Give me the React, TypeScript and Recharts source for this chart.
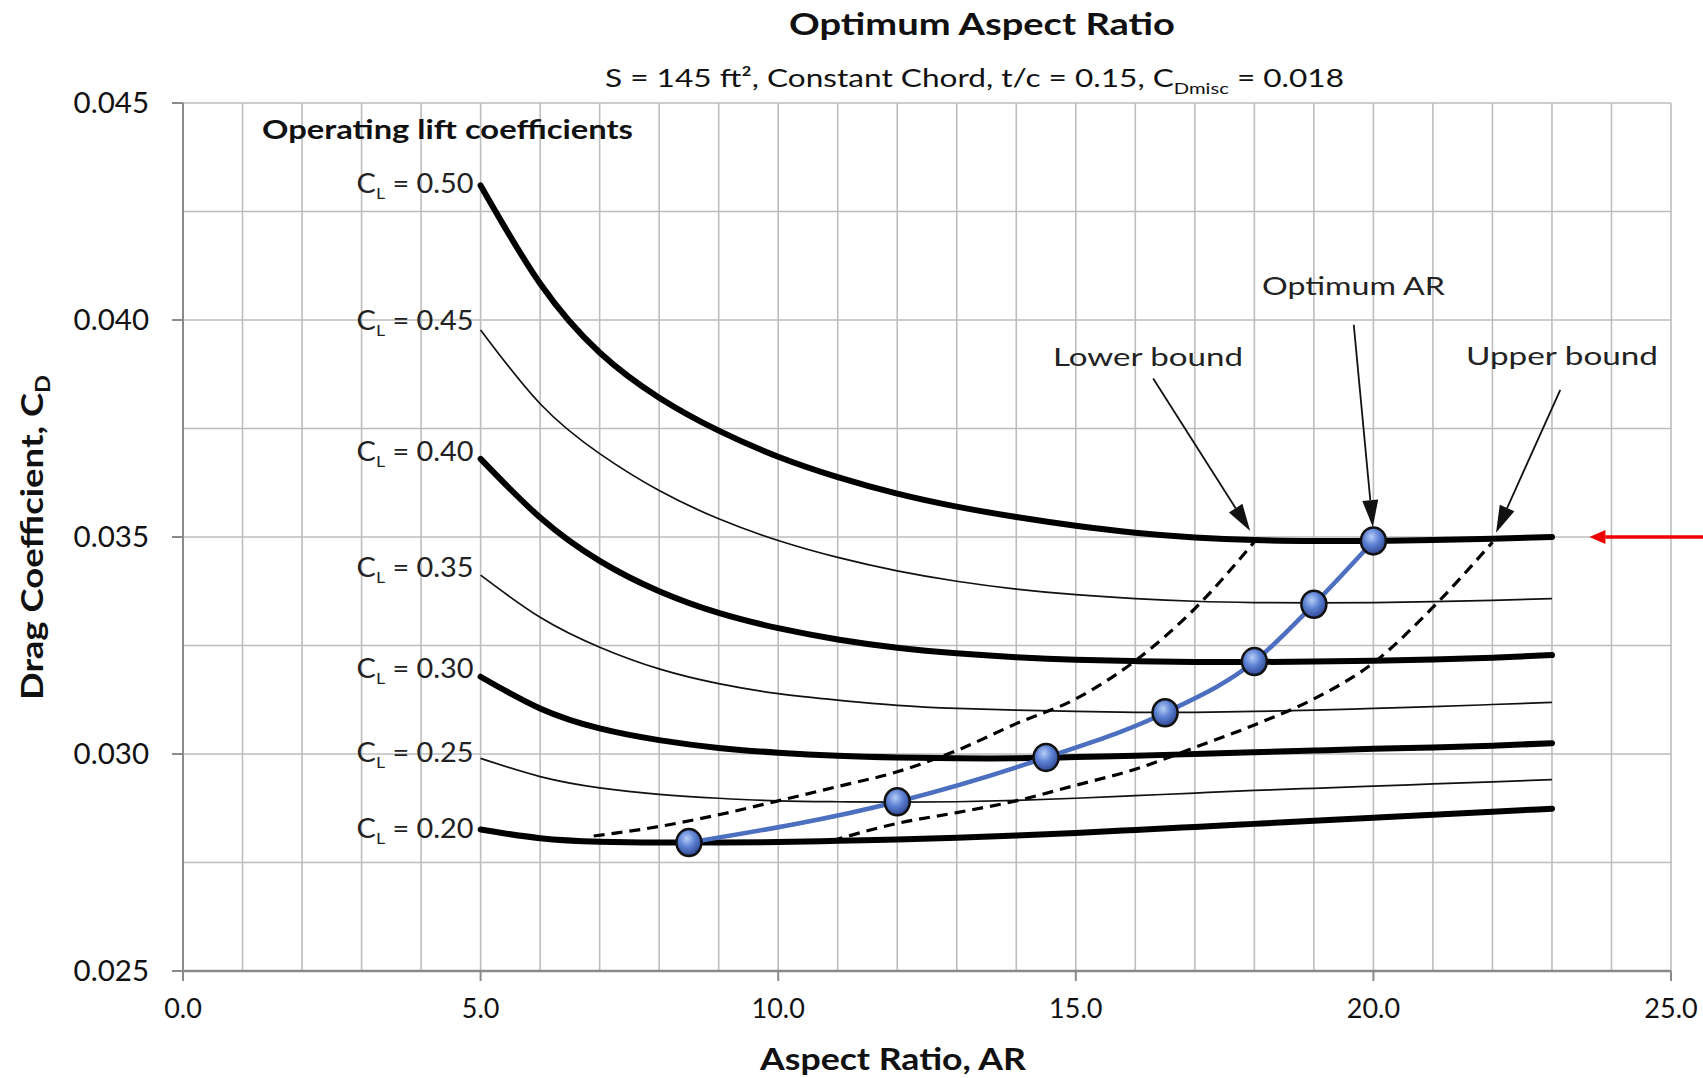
import React from 'react';
import { LineChart, Line, XAxis, YAxis, CartesianGrid, ReferenceLine } from 'recharts';

// ---------- data ----------
const AR_CURVE = [5, 6, 7, 8, 9, 10, 11, 12, 13, 14, 15, 16, 17, 18, 19, 20, 21, 22, 23];
const CD_CL050 = [0.0431, 0.04084, 0.03925, 0.03821, 0.03745, 0.03685, 0.03638, 0.036, 0.0357, 0.03546, 0.03526, 0.0351, 0.03499, 0.03493, 0.03491, 0.03491, 0.03493, 0.03496, 0.035];
const CD_CL045 = [0.03977, 0.03807, 0.03692, 0.03607, 0.03542, 0.03492, 0.03453, 0.03422, 0.03398, 0.0338, 0.03367, 0.03358, 0.03352, 0.03349, 0.03348, 0.03349, 0.03351, 0.03354, 0.03358];
const CD_CL040 = [0.0368, 0.03545, 0.03445, 0.03375, 0.03325, 0.0329, 0.03264, 0.03245, 0.03232, 0.03223, 0.03217, 0.03214, 0.03212, 0.03212, 0.03213, 0.03215, 0.03218, 0.03222, 0.03228];
const CD_CL035 = [0.03412, 0.03315, 0.03246, 0.03196, 0.03162, 0.03139, 0.03124, 0.03112, 0.03105, 0.03101, 0.03098, 0.03096, 0.03096, 0.03098, 0.03101, 0.03105, 0.03109, 0.03114, 0.03119];
const CD_CL030 = [0.03178, 0.03105, 0.03059, 0.03032, 0.03014, 0.03003, 0.02996, 0.02992, 0.0299, 0.0299, 0.02993, 0.02996, 0.03, 0.03004, 0.03008, 0.03012, 0.03015, 0.03019, 0.03025];
const CD_CL025 = [0.0299, 0.02948, 0.02922, 0.02907, 0.02898, 0.02892, 0.0289, 0.02889, 0.0289, 0.02893, 0.02898, 0.02904, 0.0291, 0.02916, 0.02921, 0.02926, 0.02931, 0.02936, 0.02941];
const CD_CL020 = [0.02826, 0.02806, 0.02798, 0.02796, 0.02796, 0.02797, 0.028, 0.02803, 0.02807, 0.02812, 0.02818, 0.02825, 0.02832, 0.02839, 0.02846, 0.02853, 0.0286, 0.02867, 0.02874];

const CL_LABELS = ['0.50', '0.45', '0.40', '0.35', '0.30', '0.25', '0.20'];
const CL_THICK = [true, false, true, false, true, false, true];
// vertical nudge of each curve label relative to the curve start (px)
const CL_LABEL_DY = [8, 0, 2, 2, 1, 4, 8];

const OPT_AR = [8.5, 12, 14.5, 16.5, 18, 19, 20];
const OPT_CD = [0.02796, 0.0289, 0.02992, 0.03095, 0.03213, 0.03345, 0.03491];

const LOWER_AR = [6.9, 8, 9, 10, 11, 12, 13, 14, 15, 16, 17, 18];
const LOWER_CD = [0.02811, 0.02833, 0.0286, 0.02892, 0.02925, 0.02959, 0.03008, 0.0307, 0.03127, 0.03215, 0.03335, 0.03489];

const UPPER_AR = [10.9, 12, 13, 14, 15, 16, 17, 18, 19, 20, 21, 22];
const UPPER_CD = [0.028, 0.0284, 0.02865, 0.02892, 0.02928, 0.02965, 0.03015, 0.03067, 0.03127, 0.0321, 0.03338, 0.03488];

const X_GRID = [0, 1, 2, 3, 4, 5, 6, 7, 8, 9, 10, 11, 12, 13, 14, 15, 16, 17, 18, 19, 20, 21, 22, 23, 24, 25];
const X_MAJOR = [0, 5, 10, 15, 20, 25];
const Y_GRID = [0.025, 0.0275, 0.03, 0.0325, 0.035, 0.0375, 0.04, 0.0425, 0.045];
const Y_MAJOR = [0.025, 0.03, 0.035, 0.04, 0.045];

// annotation arrows (data coordinates: start -> tip)
const ARROW_LOWER = [{ x: 16.3, y: 0.03865 }, { x: 17.93, y: 0.03514 }];
const ARROW_OPT = [{ x: 19.67, y: 0.03989 }, { x: 19.99, y: 0.03523 }];
const ARROW_UPPER = [{ x: 23.14, y: 0.03839 }, { x: 22.06, y: 0.0351 }];
const ARROW_RED = [{ x: 25.6, y: 0.035 }, { x: 23.63, y: 0.035 }];

// ---------- helpers ----------
const FONT = 'Lato, "Open Sans", sans-serif';
const pairs = (xs: number[], ys: number[]) => xs.map((x, i) => ({ x, y: ys[i] }));

const CURVES = [CD_CL050, CD_CL045, CD_CL040, CD_CL035, CD_CL030, CD_CL025, CD_CL020].map((cd, i) => ({
  label: CL_LABELS[i],
  thick: CL_THICK[i],
  dy: CL_LABEL_DY[i],
  data: pairs(AR_CURVE, cd),
}));

const isMajorX = (v: number) => X_MAJOR.some((m) => Math.abs(m - v) < 1e-9);
const isMajorY = (v: number) => Y_MAJOR.some((m) => Math.abs(m - v) < 1e-9);

const XTick = (props: any) => {
  const { x, y, payload } = props;
  const v = payload.value;
  if (!isMajorX(v)) return <g />;
  return (
    <g>
      <line x1={x} y1={y} x2={x} y2={y + 10} stroke="#8a8a8a" strokeWidth={2} />
      <text x={x} y={y + 47} textAnchor="middle" fontFamily={FONT} fontSize={27} fill="#111">
        {v.toFixed(1)}
      </text>
    </g>
  );
};

const YTick = (props: any) => {
  const { x, y, payload } = props;
  const v = payload.value;
  if (!isMajorY(v)) return <g />;
  return (
    <g>
      <line x1={x - 11} y1={y} x2={x} y2={y} stroke="#8a8a8a" strokeWidth={2} />
      <text x={x - 34} y={y + 10} textAnchor="end" fontFamily={FONT} fontSize={29.5} fill="#111">
        {v.toFixed(3)}
      </text>
    </g>
  );
};

const makeLabelDot = (label: string, dy: number) => (props: any) => {
  const { cx, cy, index } = props;
  if (index !== 0) return <g key={`e${index}`} />;
  return (
    <text
      key="lbl"
      x={cx - 124}
      y={cy + dy}
      fontFamily={FONT}
      fontSize={26}
      fill="#222"
      textLength={117}
      lengthAdjust="spacingAndGlyphs"
    >
      C<tspan fontSize={16} dy={6}>L</tspan>
      <tspan dy={-6}>{` = ${label}`}</tspan>
    </text>
  );
};

const BallDot = (props: any) => {
  const { cx, cy, index } = props;
  const id = `ballGrad${index}`;
  return (
    <g key={`b${index}`}>
      <defs>
        <radialGradient id={id} cx="42%" cy="35%" r="70%">
          <stop offset="0%" stopColor="#b6cdf7" />
          <stop offset="45%" stopColor="#5d82d3" />
          <stop offset="100%" stopColor="#27408a" />
        </radialGradient>
      </defs>
      <ellipse cx={cx} cy={cy} rx={12.5} ry={13.5} fill={`url(#${id})`} stroke="#111" strokeWidth={2.5} />
    </g>
  );
};

const makeArrow = (color: string, width: number, headLen: number, headHalf: number) => (props: any) => {
  const { x1, y1, x2, y2 } = props;
  const dx = x2 - x1;
  const dy = y2 - y1;
  const len = Math.hypot(dx, dy) || 1;
  const ux = dx / len;
  const uy = dy / len;
  const bx = x2 - ux * headLen;
  const by = y2 - uy * headLen;
  const px = -uy * headHalf;
  const py = ux * headHalf;
  return (
    <g>
      <line x1={x1} y1={y1} x2={bx} y2={by} stroke={color} strokeWidth={width} />
      <polygon points={`${x2},${y2} ${bx + px},${by + py} ${bx - px},${by - py}`} fill={color} />
    </g>
  );
};

export default function App() {
  return (
    <div style={{ position: 'absolute', left: 0, top: 0, width: 1703, height: 1078, background: '#fff' }}>
      <LineChart width={1703} height={1078} margin={{ top: 103, right: 32, bottom: 57, left: 99 }}>
        <CartesianGrid stroke="#bdbdbd" strokeWidth={1.6} />
        <XAxis
          type="number"
          dataKey="x"
          domain={[0, 25]}
          ticks={X_GRID}
          interval={0}
          tickSize={0}
          tickMargin={0}
          tickLine={false}
          tick={<XTick />}
          axisLine={{ stroke: '#8a8a8a', strokeWidth: 2.5 }}
          height={50}
          allowDecimals
        />
        <YAxis
          type="number"
          domain={[0.025, 0.045]}
          ticks={Y_GRID}
          interval={0}
          tickSize={0}
          tickMargin={0}
          tickLine={false}
          tick={<YTick />}
          axisLine={{ stroke: '#8a8a8a', strokeWidth: 2 }}
          width={84}
        />
        {CURVES.filter((c) => !c.thick).map((c) => (
          <Line
            key={c.label}
            data={c.data}
            dataKey="y"
            type="natural"
            stroke="#111"
            strokeWidth={1.7}
            dot={makeLabelDot(c.label, c.dy)}
            activeDot={false}
            isAnimationActive={false}
          />
        ))}
        {CURVES.filter((c) => c.thick).map((c) => (
          <Line
            key={c.label}
            data={c.data}
            dataKey="y"
            type="natural"
            stroke="#000"
            strokeWidth={6}
            strokeLinecap="round"
            dot={makeLabelDot(c.label, c.dy)}
            activeDot={false}
            isAnimationActive={false}
          />
        ))}
        <Line
          data={pairs(LOWER_AR, LOWER_CD)}
          dataKey="y"
          type="monotone"
          stroke="#000"
          strokeWidth={3.2}
          strokeDasharray="11 7"
          dot={false}
          activeDot={false}
          isAnimationActive={false}
        />
        <Line
          data={pairs(UPPER_AR, UPPER_CD)}
          dataKey="y"
          type="monotone"
          stroke="#000"
          strokeWidth={3.2}
          strokeDasharray="11 7"
          dot={false}
          activeDot={false}
          isAnimationActive={false}
        />
        <Line
          data={pairs(OPT_AR, OPT_CD)}
          dataKey="y"
          type="monotone"
          stroke="#4d6fbf"
          strokeWidth={4.5}
          dot={BallDot}
          activeDot={false}
          isAnimationActive={false}
        />
        <ReferenceLine segment={ARROW_LOWER} ifOverflow="visible" shape={makeArrow('#111', 1.8, 27, 8)} />
        <ReferenceLine segment={ARROW_OPT} ifOverflow="visible" shape={makeArrow('#111', 1.8, 27, 8)} />
        <ReferenceLine segment={ARROW_UPPER} ifOverflow="visible" shape={makeArrow('#111', 1.8, 27, 8)} />
        <ReferenceLine segment={ARROW_RED} ifOverflow="visible" shape={makeArrow('#ee0000', 3.5, 16, 7)} />
      </LineChart>
      <svg
        width={1703}
        height={1078}
        style={{ position: 'absolute', left: 0, top: 0, pointerEvents: 'none' }}
      >
        <text x={789} y={35} fontFamily={FONT} fontWeight={700} fontSize={30} fill="#111" textLength={386} lengthAdjust="spacingAndGlyphs">
          Optimum Aspect Ratio
        </text>
        <text x={605} y={87} fontFamily={FONT} fontSize={25} fill="#111" textLength={739} lengthAdjust="spacingAndGlyphs">
          {'S = 145 ft², Constant Chord, t/c = 0.15, C'}
          <tspan fontSize={16} dy={7}>Dmisc</tspan>
          <tspan dy={-7}>{' = 0.018'}</tspan>
        </text>
        <text x={262} y={139} fontFamily={FONT} fontWeight={700} fontSize={26} fill="#111" textLength={371} lengthAdjust="spacingAndGlyphs">
          Operating lift coefficients
        </text>
        <text x={1262} y={295} fontFamily={FONT} fontSize={25} fill="#222" textLength={183} lengthAdjust="spacingAndGlyphs">
          Optimum AR
        </text>
        <text x={1053} y={366} fontFamily={FONT} fontSize={25} fill="#222" textLength={190} lengthAdjust="spacingAndGlyphs">
          Lower bound
        </text>
        <text x={1466} y={365} fontFamily={FONT} fontSize={25} fill="#222" textLength={192} lengthAdjust="spacingAndGlyphs">
          Upper bound
        </text>
        <text x={760} y={1070} fontFamily={FONT} fontWeight={700} fontSize={31} fill="#111" textLength={266} lengthAdjust="spacingAndGlyphs">
          Aspect Ratio, AR
        </text>
        <text
          x={0}
          y={0}
          transform="translate(43 700) rotate(-90)"
          fontFamily={FONT}
          fontWeight={700}
          fontSize={31}
          fill="#111"
          textLength={325}
          lengthAdjust="spacingAndGlyphs"
        >
          Drag Coefficient, C<tspan fontSize={20} dy={7}>D</tspan>
        </text>
      </svg>
    </div>
  );
}
